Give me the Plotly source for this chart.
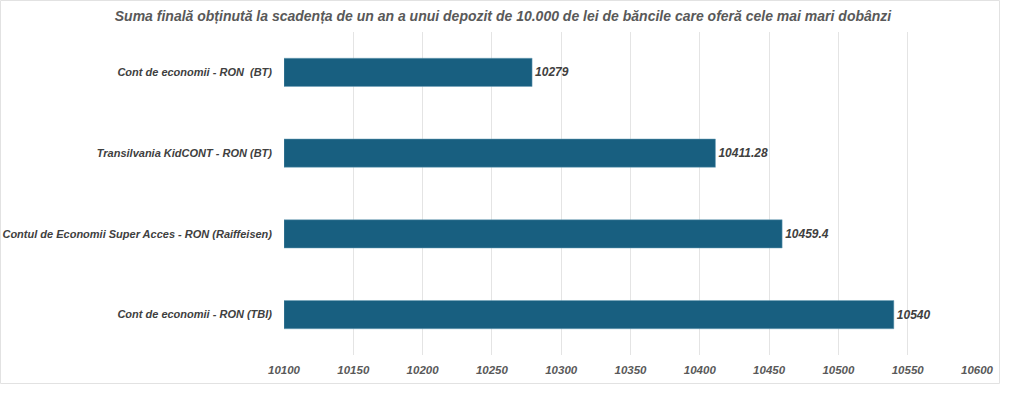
import plotly.graph_objects as go

categories = [
    "Cont de economii - RON  (BT)",
    "Transilvania KidCONT - RON (BT)",
    "Contul de Economii Super Acces - RON (Raiffeisen)",
    "Cont de economii - RON (TBI)",
]
values = [10279, 10411.28, 10459.4, 10540]
value_labels = ["10279", "10411.28", "10459.4", "10540"]
tick_vals = [10100, 10150, 10200, 10250, 10300, 10350, 10400, 10450, 10500, 10550, 10600]
axis_start = 10100

title = "Suma finală obținută la scadența de un an a unui depozit de 10.000 de lei de băncile care oferă cele mai mari dobânzi"

W, H = 1024, 399
ml, mr, mt, mb = 284, 47, 32, 44

fig = go.Figure(
    go.Bar(
        x=[v - axis_start for v in values],
        y=categories,
        orientation="h",
        base=axis_start,
        marker=dict(color="#185f80", line=dict(color="#6fa0b8", width=0.5)),
        width=0.35,
        text=value_labels,
        textposition="outside",
        cliponaxis=False,
        textfont=dict(family="Liberation Sans", size=12, color="#404040", weight="bold", style="italic"),
    )
)

pw = W - ml - mr
ph = H - mt - mb
fig.update_layout(
    width=W,
    height=H,
    autosize=False,
    margin=dict(l=ml, r=mr, t=mt, b=mb, pad=0, autoexpand=False),
    plot_bgcolor="white",
    paper_bgcolor="white",
    showlegend=False,
    title=dict(
        text=title,
        x=503 / W,
        xanchor="center",
        y=1 - 16 / H,
        yanchor="middle",
        font=dict(family="Liberation Sans", size=14, color="#595959", weight="bold", style="italic"),
    ),
    xaxis=dict(
        range=[10100, 10600],
        tickvals=tick_vals,
        ticktext=[str(t) for t in tick_vals],
        showgrid=True,
        gridcolor="#e4e4e4",
        gridwidth=1,
        zeroline=False,
        showline=False,
        ticks="",
        automargin=False,
        tickfont=dict(family="Liberation Sans", size=11.5, color="#595959", weight="bold", style="italic"),
        ticklabelstandoff=6,
    ),
    yaxis=dict(
        categoryorder="array",
        categoryarray=categories[::-1],
        showgrid=False,
        zeroline=False,
        showline=False,
        ticks="",
        automargin=False,
        tickfont=dict(family="Liberation Sans", size=11, color="#404040", weight="bold", style="italic"),
        ticklabelstandoff=11,
    ),
    bargap=0.65,
    shapes=[
        dict(
            type="rect",
            xref="paper",
            yref="paper",
            x0=(0.5 - ml) / pw,
            x1=(999.5 - ml) / pw,
            y0=(H - mb - 383.5) / ph,
            y1=(H - mb - 0.5) / ph,
            line=dict(color="#e2e2e2", width=1),
            layer="below",
        )
    ],
)

fig.write_html(
    "out.html",
    config={"displayModeBar": False},
    post_script="document.body.style.margin='0';document.body.style.padding='0';",
)
